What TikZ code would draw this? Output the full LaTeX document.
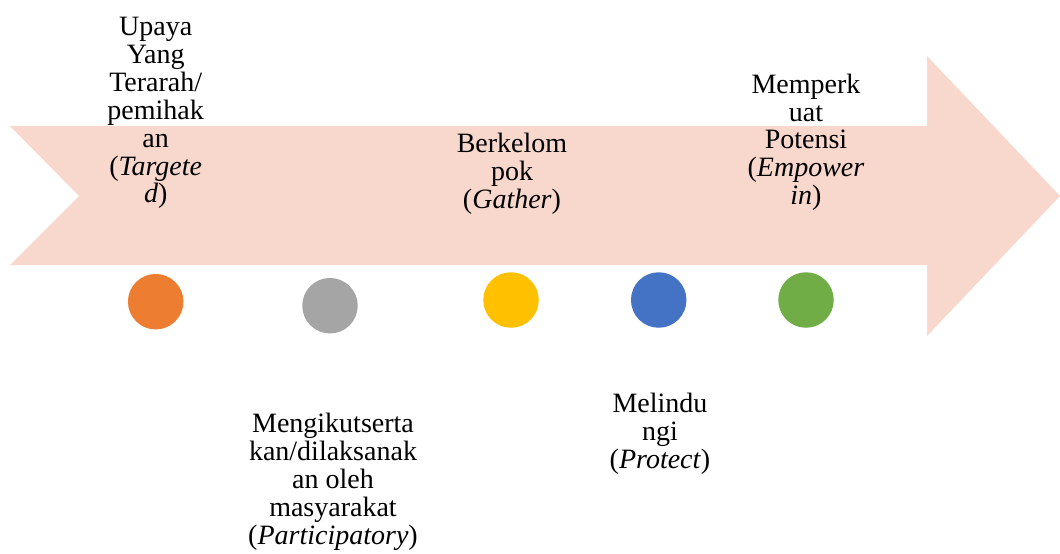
\documentclass[tikz,border=0pt]{standalone}
\usepackage{fontspec}
\setmainfont{Liberation Serif}
\usepackage{xcolor}
\usepackage{tikz}
\usetikzlibrary{shapes,positioning,calc}

\definecolor{arrowpink}{HTML}{F8D7CD}
\definecolor{dotorange}{HTML}{ED7D31}
\definecolor{dotgray}{HTML}{A5A5A5}
\definecolor{dotyellow}{HTML}{FFC000}
\definecolor{dotblue}{HTML}{4472C4}
\definecolor{dotgreen}{HTML}{70AD47}

\begin{document}
\begin{tikzpicture}[x=1pt,y=-1pt,
    dot/.style={circle, minimum size=55.5pt, inner sep=0pt},
    lbl/.style={anchor=north, align=center, inner sep=0pt,
        font=\fontsize{28}{27.9}\selectfont}]
    \useasboundingbox (0,0) rectangle (1060,554);

    % big arrow
    \fill[arrowpink] (10,126) -- (927,126) -- (927,56) -- (1060,196)
        -- (927,336) -- (927,265) -- (10,265) -- (79,196) -- cycle;

    % dots
    \node[dot, fill=dotorange] (targeted) at (155.7,301.7) {};
    \node[dot, fill=dotgray] (participatory) at (330,305.7) {};
    \node[dot, fill=dotyellow] (gather) at (511,300) {};
    \node[dot, fill=dotblue] (protect) at (658.7,300) {};
    \node[dot, fill=dotgreen] (empower) at (806,300) {};

    % labels
    \node[lbl] (targetedtxt) at (155.7,17)
        {Upaya\\Yang\\Terarah/\\pemihak\\an\\(\textit{Targete}\\\textit{d})};
    \node[lbl] (participatorytxt) at (333,413)
        {Mengikutserta\\kan/dilaksanak\\an oleh\\masyarakat\\(\textit{Participatory})};
    \node[lbl] (gathertxt) at (512,133)
        {Berkelom\\pok\\(\textit{Gather})};
    \node[lbl] (protecttxt) at (660,393)
        {Melindu\\ngi\\(\textit{Protect})};
    \node[lbl] (empowertxt) at (806,73.5)
        {Memperk\\uat\\Potensi\\(\textit{Empower}\\\textit{in})};
\end{tikzpicture}
\end{document}
